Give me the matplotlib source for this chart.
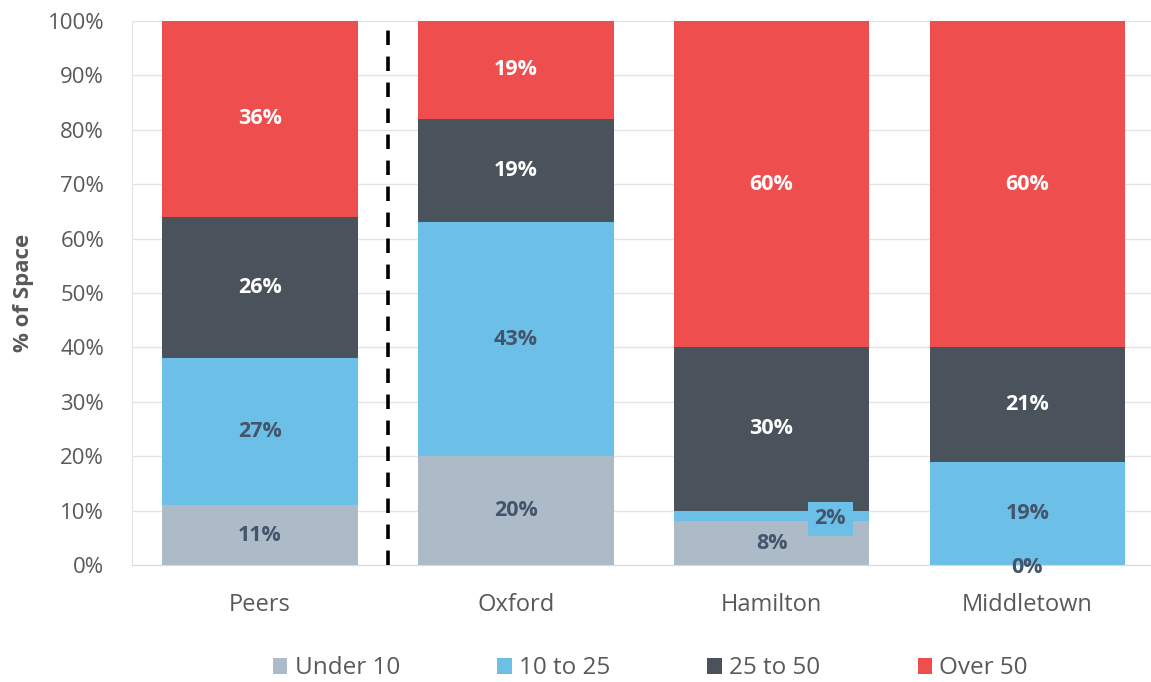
import matplotlib.pyplot as plt
import numpy as np
from matplotlib.patches import Patch

plt.rcParams['font.family'] = ['Open Sans', 'DejaVu Sans']

# share of space by lot size, per site
sites = ['Peers', 'Oxford', 'Hamilton', 'Middletown']
bands = ['Under 10', '10 to 25', '25 to 50', 'Over 50']
under_10 = [11, 20, 8, 0]
from_10_to_25 = [27, 43, 2, 19]
from_25_to_50 = [26, 19, 30, 21]
over_50 = [36, 19, 60, 60]

series = [under_10, from_10_to_25, from_25_to_50, over_50]
colors = ['#ADBBC9', '#6CBFE6', '#4A535C', '#EE4E4E']
text_colors = ['#44546A', '#44546A', 'white', 'white']

fig = plt.figure(figsize=(11.51, 6.82), dpi=100)
ax = fig.add_axes([0.1147, 0.1716, 0.889, 0.7976])

x = np.arange(len(sites))
width = 0.765
bottom = np.zeros(len(sites))
for vals, col, tcol in zip(series, colors, text_colors):
    vals = np.array(vals, dtype=float)
    ax.bar(x, vals, width, bottom=bottom, color=col, zorder=2)
    for i, v in enumerate(vals):
        if sites[i] == 'Hamilton' and v == 2:
            # small slice, label pushed to the right with a boxed background
            ax.text(x[i] + 0.23, bottom[i] + v / 2 - 0.5, f'{v:.0f}%', ha='center', va='center',
                    fontsize=15.5, fontweight='bold', color=tcol, zorder=4,
                    bbox=dict(boxstyle='square,pad=0.3', fc=col, ec='none'))
        elif v == 0:
            ax.text(x[i], bottom[i] - 0.5, f'{v:.0f}%', ha='center', va='center',
                    fontsize=15.5, fontweight='bold', color=tcol, zorder=4)
        else:
            yc = min(bottom[i] + v / 2, (bottom[i] + 100) / 2)
            ax.text(x[i], yc, f'{v:.0f}%', ha='center', va='center',
                    fontsize=15.5, fontweight='bold', color=tcol, zorder=4)
    bottom += vals

# divider between the peer group and the individual sites
ax.axvline(0.5, color='black', linestyle=(0, (4, 3.2)), linewidth=2.6, zorder=3)

ax.set_xlim(-0.5, 3.5)
ax.set_ylim(0, 100)
ax.set_yticks(np.arange(0, 101, 10))
ax.set_yticklabels([f'{t}%' for t in range(0, 101, 10)])
ax.set_xticks(x)
ax.set_xticklabels(sites)
ax.tick_params(axis='y', length=0, labelsize=16, labelcolor='#595959', pad=20)
ax.tick_params(axis='x', length=0, labelsize=17, labelcolor='#595959', pad=20)
ax.grid(axis='y', color='#E4E4E4', linewidth=1, zorder=0)
for side in ['top', 'right']:
    ax.spines[side].set_visible(False)
ax.spines['left'].set_color('#E4E4E4')
ax.spines['bottom'].set_color('#D9D9D9')

ax.set_ylabel('% of Space', fontsize=16, fontweight='bold', color='#595959', labelpad=10)

handles = [Patch(facecolor=c, edgecolor='none') for c in colors]
fig.legend(handles, bands, loc='center', bbox_to_anchor=(0.565, 0.02), ncol=4,
           frameon=False, fontsize=17.5, labelcolor='#595959', handlelength=0.6,
           handleheight=0.6, handletextpad=0.3, columnspacing=4.0)

fig.savefig('out.png', dpi=100)
